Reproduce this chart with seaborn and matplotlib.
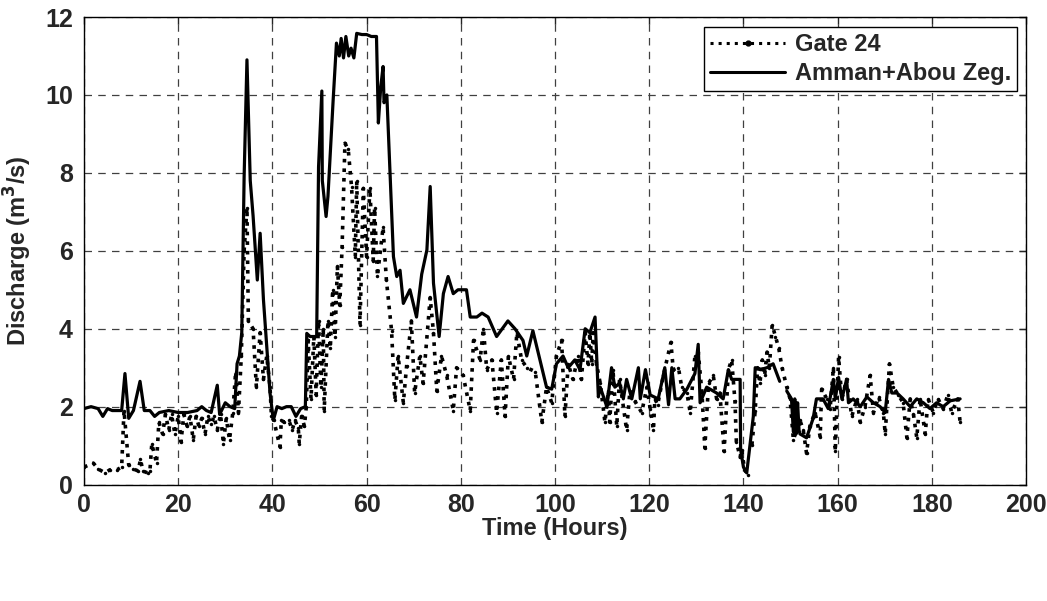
import numpy as np
import pandas as pd
import matplotlib
matplotlib.use("Agg")
import matplotlib.pyplot as plt
from matplotlib.lines import Line2D
import seaborn as sns

# Amman+Abou Zeg. (solid) -- time (h), discharge (m3/s), segment id
amman_t = [0, 1.5, 3, 4, 5, 6, 8, 8.7, 9.5, 10.5, 11.9, 12.8, 14, 15, 16, 18, 20, 22, 24, 25, 26, 27,
           28.3, 28.8, 30, 31, 32, 32.5, 33, 33.5, 34, 34.6, 35.3, 35.9, 36.8, 37.4, 38.1, 39.5, 40.2,
           41, 42, 43, 44, 45, 46, 47, 47.3, 48, 49.4, 49.8, 50.5, 50.6, 51.4, 51.8, 52.9, 53.6, 54.2,
           54.6, 55.1, 55.6, 56.2, 56.7, 57.3, 57.9, 59, 60, 61, 62.1, 62.5, 63, 63.5, 63.7, 64.3, 65.7,
           66.4, 67.1, 67.8, 69.2, 70.6, 71.7, 72.8, 73.5, 74.2, 75.4, 76.3, 77.3, 78.4, 79.4, 81.2, 82.0,
           83.4, 84.5, 85.8, 87.6, 90.0, 91.5, 93.2, 94.0, 95.3, 96.4, 98.2, 99.3, 100.3, 101.7, 102.8,
           104.2, 105.3, 106.4, 107.4, 108.5, 109.2, 109.6, 111.0, 112.0, 112.7, 113.7, 114.5, 115.2,
           116.3, 117.7, 118.1, 119.2, 120.2, 121.9, 122.8, 123.3, 124.1, 124.8, 125.5, 126.5, 128.0,
           129.7, 130.4, 130.8, 132.2, 134.3, 135.7, 136.8, 137.5, 139.3, 139.4, 140.0, 140.7,
           142.1, 142.5, 143.6, 145.0, 146.3, 147.7, 149.2, 150.2, 150.6, 150.9, 151.2, 151.5, 151.8,
           152.0, 153.4, 154.8, 155.5, 156.9, 158.0, 159.1, 159.5, 160.2, 160.9, 161.9, 162.3, 163.3,
           164.8, 166.2, 167.6, 169.0, 170.1, 170.8, 171.5, 172.6, 173.9, 175.4, 176.8, 178.2, 179.6,
           181.0, 182.4, 183.9, 186.0]
amman_q = [1.95, 2.0, 1.95, 1.75, 1.95, 1.9, 1.9, 2.85, 1.7, 1.9, 2.65, 1.9, 1.9, 1.75, 1.85, 1.9, 1.85,
           1.85, 1.9, 2.0, 1.9, 1.85, 2.55, 1.8, 2.1, 2.0, 1.95, 3.1, 3.3, 3.9, 7.9, 10.9, 7.8, 6.9, 5.25,
           6.45, 4.75, 2.35, 1.65, 2.0, 1.95, 2.0, 2.0, 1.75, 1.95, 2.0, 3.88, 3.8, 3.8, 8.15, 10.1, 7.8,
           6.88, 7.4, 9.87, 11.33, 11.0, 11.45, 10.95, 11.5, 11.0, 11.2, 10.95, 11.58, 11.55, 11.55, 11.5,
           11.5, 9.28, 10.2, 10.73, 9.8, 10.0, 5.85, 5.34, 5.5, 4.65, 5.0, 4.3, 5.4, 6.02, 7.65, 5.17,
           3.8, 4.9, 5.34, 4.9, 5.0, 5.0, 4.3, 4.3, 4.4, 4.3, 3.8, 4.2, 4.0, 3.7, 3.3, 3.95, 3.4, 2.5,
           2.45, 3.1, 3.3, 3.0, 3.2, 2.95, 4.0, 3.9, 4.3, 2.25, 2.5, 2.0, 3.0, 2.5, 2.6, 2.2, 2.7, 2.2,
           3.0, 2.2, 2.95, 2.3, 2.2, 2.7, 3.0, 2.05, 3.0, 2.2, 2.2, 2.45, 2.85, 3.6, 2.1, 2.5, 2.35, 2.2,
           2.95, 2.7, 2.7, 0.9, 0.45, 0.3,
           1.75, 3.0, 2.95, 3.0, 3.1, 2.65, 2.4, 2.2, 1.35, 2.2, 1.3, 2.1, 1.4, 1.3, 1.2, 1.7, 2.2,
           2.2, 1.95, 2.7, 2.2, 2.75, 2.2, 2.7, 2.1, 2.2, 2.0, 2.25, 2.1, 2.0, 1.85, 2.7, 2.35, 2.35,
           2.2, 2.0, 2.2, 2.1, 1.95, 2.1, 2.0, 2.15, 2.2]
amman_seg = [0] * 149 + [1] * (len(amman_t) - 149)

# Gate 24 (dotted)
gate_t = [0, 2.0, 3, 4.5, 5.5, 7, 8, 8.5, 9.5, 10.5, 11.5, 12, 12.5, 13.5, 14, 14.4, 15.4, 15.9,
          16.7, 17.3, 18, 18.6, 19.3, 20, 20.6, 21.2, 21.9, 22.5, 23.2, 23.8, 24.4, 25, 25.7, 26.3,
          27, 27.6, 28.3, 29, 29.6, 30.2, 30.9, 31.6, 32.2, 32.8, 33.4, 34, 34.6, 34.9, 35.9, 36.6,
          37.4, 38.1, 38.8, 39.5, 39.8, 40.3, 41.6, 41.9, 42.5, 43.5, 44.2, 44.8, 45.5, 45.7, 46.2,
          46.8, 47.2, 47.6, 48.2, 48.8, 49.3, 49.8, 50.3, 50.8, 51.0, 51.8, 52.3, 52.8, 53.3, 53.8,
          54.3, 54.8, 55.4, 56.1, 56.8, 57.6, 57.9, 58.6, 59.3, 60.0, 60.7, 61.4, 61.7, 62.3, 63.5,
          64.2, 65.3, 66.0, 66.7, 67.8, 68.5, 69.5, 70.2, 71.3, 72.0, 73.5, 74.2, 74.9, 75.9, 77.0,
          78.4, 79.1, 80.5, 82.0, 82.7, 84.1, 84.8, 85.5, 86.6, 87.6, 88.6, 89.4, 90.1, 91.2, 91.9,
          92.9, 94.0, 95.8, 97.2, 98.2, 99.3, 100.3, 101.4, 102.1, 102.8, 103.8, 104.9, 105.6, 106.4,
          107.0, 107.4, 107.8, 108.1, 108.8, 109.6, 110.6, 111.3, 111.6, 112.3, 113.1, 113.7, 115.2,
          115.9, 116.9, 118.4, 119.5, 120.2, 120.9, 121.2, 121.8, 123.0, 124.6, 125.1, 126.2, 126.9,
          128.0, 128.7, 129.7, 130.4, 131.2, 131.8, 132.6, 133.6, 134.3, 135.0, 135.9, 136.8, 137.5,
          138.2, 138.5, 139.3, 139.6, 140.3, 141.0,
          141.8,
          142.5, 143.0, 143.5, 144.0, 144.5, 145.0, 145.5, 146.1, 146.8, 147.5, 148.2, 149.2, 149.9,
          150.6, 151.3, 152.0, 152.7, 153.4, 154.1, 155.2, 156.3, 156.6, 157.7, 158.4, 159.1, 159.5,
          160.2, 160.9, 161.9, 163.0, 164.1, 164.8, 165.8, 166.9, 167.6, 168.7, 169.7, 170.1, 171.0,
          171.8, 172.9, 173.9, 174.7, 175.4, 176.1, 176.8, 177.5, 178.6, 179.2, 180.3, 181.3, 182.4,
          183.4, 184.2, 185.5, 186.0]
gate_q = [0.45, 0.55, 0.4, 0.3, 0.38, 0.38, 0.45, 1.9, 0.5, 0.4, 0.35, 0.65, 0.35, 0.3, 0.35, 1.05,
          0.55, 1.6, 1.3, 1.8, 1.4, 1.8, 1.3, 1.75, 1.1, 1.8, 1.5, 1.75, 1.15, 1.75, 1.5, 1.7, 1.3,
          1.75, 1.55, 1.75, 1.4, 1.8, 1.05, 1.7, 1.15, 1.85, 2.9, 1.85, 3.3, 6.0, 7.1, 4.2, 4.0, 2.5,
          3.9, 2.7, 3.3, 2.5, 1.75, 1.65, 0.97, 1.65, 1.6, 1.65, 1.4, 1.65, 1.45, 1.05, 1.75, 1.5, 2.0,
          3.7, 2.2, 3.8, 2.3, 4.2, 2.5, 4.0, 1.9, 4.2, 3.5, 5.0, 3.8, 5.6, 4.6, 6.1, 8.76, 8.6, 7.65,
          5.85, 7.8, 4.1, 7.6, 5.85, 7.6, 5.75, 7.1, 5.35, 6.6, 5.25, 3.95, 2.17, 3.3, 2.1, 3.05, 4.2,
          2.35, 3.3, 2.6, 4.8, 3.9, 2.4, 3.3, 2.8, 1.9, 3.0, 2.8, 1.9, 3.7, 3.2, 4.0, 2.95, 3.2, 1.85,
          3.2, 1.75, 3.3, 2.7, 3.9, 3.2, 3.0, 2.9, 1.6, 2.5, 2.1, 3.3, 3.7, 1.75, 3.1, 2.7, 3.3, 2.7,
          3.9, 3.1, 3.9, 3.1, 3.9, 3.1, 2.6, 1.6, 2.4, 1.6, 2.95, 1.5, 2.7, 1.4, 2.4, 2.15, 1.85, 2.5,
          1.95, 1.4, 2.2, 2.05, 2.8, 3.65, 2.95, 3.0, 2.5, 2.35, 1.85, 3.3, 3.4, 2.35, 0.94, 2.6, 2.8,
          2.2, 2.35, 0.85, 2.95, 3.2, 2.15, 1.1, 0.7, 0.9, 0.35, 0.25,
          1.02,
          1.9, 3.0, 2.6, 3.2, 2.8, 3.4, 3.0, 4.1, 3.8, 3.5, 3.0, 2.5, 2.2, 1.15, 1.4, 1.65, 1.4, 0.8,
          1.5, 1.85, 1.23, 2.45, 2.2, 1.95, 3.0, 0.85, 3.28, 2.2, 2.7, 1.75, 2.2, 1.6, 2.0, 2.8, 1.85,
          2.25, 1.85, 1.3, 3.1, 2.5, 2.3, 2.1, 1.2, 2.2, 1.8, 1.2, 2.2, 1.3, 2.2, 1.85, 2.2, 1.95, 2.3,
          1.85, 2.2, 1.6]
gate_seg = [0] * 183 + [1] + [2] * (len(gate_t) - 184)

amman = pd.DataFrame({"t": amman_t, "q": amman_q, "seg": amman_seg})
gate = pd.DataFrame({"t": gate_t, "q": gate_q, "seg": gate_seg})

sns.set_style("white")
plt.rcParams["font.family"] = ["Liberation Sans", "DejaVu Sans"]
plt.rcParams["font.weight"] = "bold"

fig = plt.figure(figsize=(10.47, 6.01), dpi=100)
ax = fig.add_axes([0.0802, 0.1937, 0.8998, 0.778])

sns.lineplot(data=gate, x="t", y="q", units="seg", estimator=None, sort=False, ax=ax,
             color="black", linestyle=":", linewidth=2.6, marker=".", markersize=5,
             markeredgewidth=0, legend=False)
sns.lineplot(data=amman, x="t", y="q", units="seg", estimator=None, sort=False, ax=ax,
             color="black", linestyle="-", linewidth=2.3, legend=False)

ax.set_xlim(0, 200)
ax.set_ylim(0, 12)
ax.set_xticks(range(0, 201, 20))
ax.set_yticks(range(0, 13, 2))
ax.grid(True, color="0.25", linestyle=(0, (6, 5)), linewidth=0.9)
ax.tick_params(direction="in", top=True, right=True, length=5, labelsize=18, width=1)
ax.tick_params(axis="y", pad=8)
ax.tick_params(axis="x", pad=6)
for lab in ax.get_xticklabels() + ax.get_yticklabels():
    lab.set_fontweight("bold")
for sp in ax.spines.values():
    sp.set_color("black")
    sp.set_linewidth(1.0)

ax.set_xlabel("Time (Hours)", fontsize=17, fontweight="bold", labelpad=0)
ax.set_ylabel("Discharge (m$^3$/s)", fontsize=17, fontweight="bold", labelpad=8)

handles = [Line2D([], [], color="black", linestyle=":", linewidth=2.2, marker=".", markersize=7),
           Line2D([], [], color="black", linestyle="-", linewidth=2.2)]
leg = ax.legend(handles, ["Gate 24", "Amman+Abou Zeg."], loc="upper right", numpoints=1,
                prop={"size": 17, "weight": "bold"}, frameon=True, fancybox=False,
                edgecolor="black", framealpha=1, handlelength=3.2, borderpad=0.25,
                labelspacing=0.25, handletextpad=0.4, borderaxespad=0,
                bbox_to_anchor=(0.9904, 0.9786))
leg.get_frame().set_linewidth(1.0)

fig.savefig("out.png", dpi=100)
